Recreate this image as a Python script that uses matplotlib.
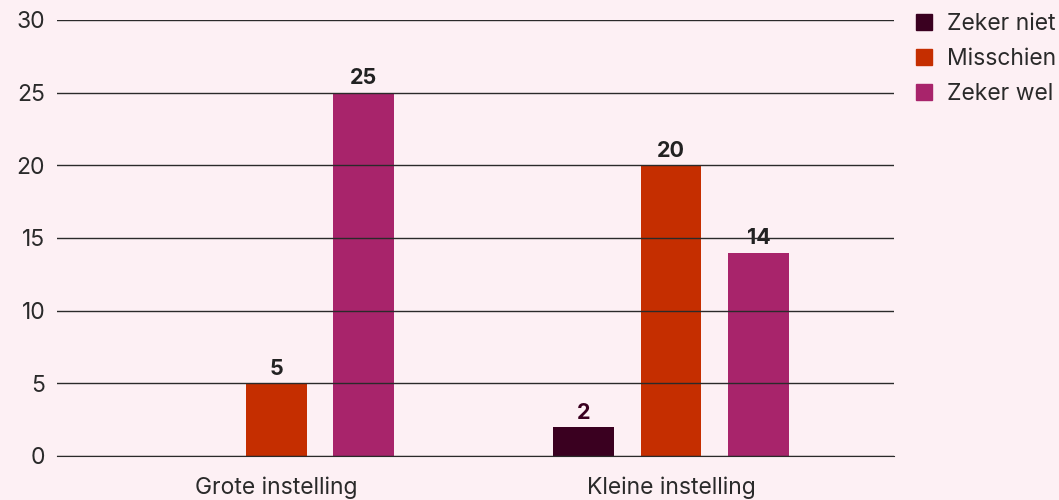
import matplotlib.pyplot as plt
import numpy as np
from matplotlib.lines import Line2D

plt.rcParams['font.family'] = ['Inter', 'DejaVu Sans']

categories = ['Grote instelling', 'Kleine instelling']
series = ['Zeker niet', 'Misschien', 'Zeker wel']
values = {
    'Zeker niet': [0, 2],
    'Misschien': [5, 20],
    'Zeker wel': [25, 14],
}
colors = {'Zeker niet': '#3a0020', 'Misschien': '#c52e00', 'Zeker wel': '#a8246b'}
label_colors = {'Zeker niet': '#3a0020', 'Misschien': '#222222', 'Zeker wel': '#222222'}

bg = '#fdf0f4'
fig = plt.figure(figsize=(10.59, 5), dpi=100, facecolor=bg)
ax = fig.add_axes([57 / 1059, 44 / 500, (894 - 57) / 1059, 436 / 500])
ax.set_facecolor(bg)

x = np.arange(len(categories))
width = 0.154
offsets = [-0.222, 0, 0.222]

for name, off in zip(series, offsets):
    vals = values[name]
    ax.bar(x + off, vals, width, color=colors[name], zorder=2)
    for xi, v in zip(x, vals):
        if v > 0:
            ax.text(xi + off, v + 0.3, str(v), ha='center', va='bottom',
                    fontsize=15.5, fontweight='bold', color=label_colors[name], zorder=1)

ax.set_ylim(0, 30)
ax.set_xlim(-0.555, 1.565)
ax.set_yticks(range(0, 31, 5))
ax.yaxis.grid(True, color='#2a2a2a', linewidth=1.0, zorder=3)
ax.set_axisbelow(False)
ax.set_xticks(x)
ax.set_xticklabels(categories)
ax.tick_params(axis='both', length=0, labelsize=16.5, colors='#2a2a2a')
ax.tick_params(axis='y', pad=8.5)
ax.tick_params(axis='x', pad=15)
for s in ['top', 'right', 'left']:
    ax.spines[s].set_visible(False)
ax.spines['bottom'].set_color('#2a2a2a')

handles = [Line2D([], [], marker='s', linestyle='none', markersize=11,
                  color=colors[n]) for n in series]
fig.legend(handles, series, loc='upper left', bbox_to_anchor=(917 / 1059, 1 - 13 / 500),
           frameon=False, fontsize=16.5, handlelength=0.6, handletextpad=0.7,
           labelspacing=0.57, borderpad=0, borderaxespad=0, labelcolor='#2a2a2a')

fig.savefig('out.png', dpi=100, facecolor=bg)
